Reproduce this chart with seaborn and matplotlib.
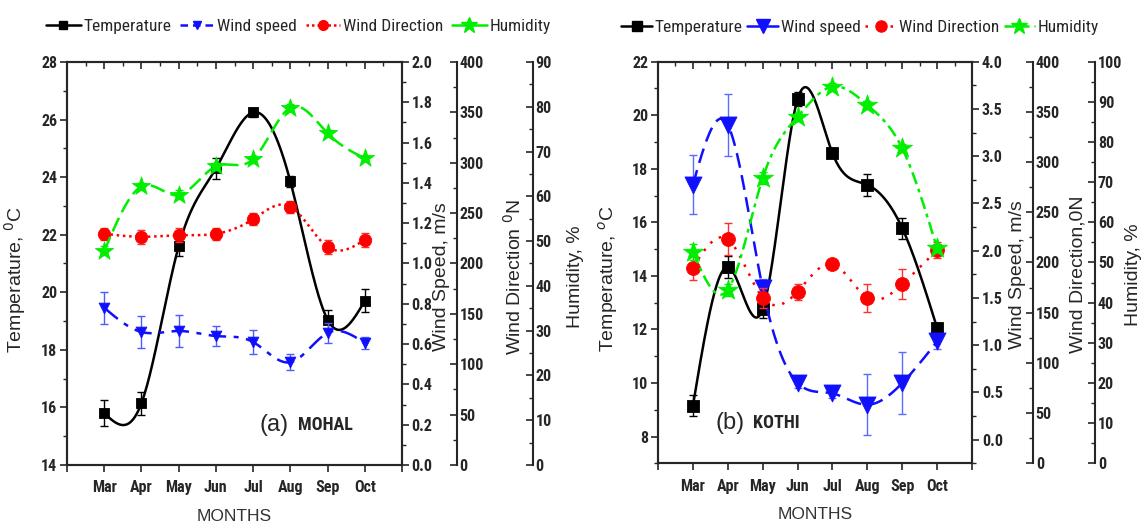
import numpy as np
import matplotlib
matplotlib.use("Agg")
import matplotlib.pyplot as plt
import seaborn as sns
from matplotlib import font_manager
from matplotlib.lines import Line2D
from matplotlib.ticker import MultipleLocator, FormatStrFormatter, FixedLocator

# Data
months = ["Mar", "Apr", "May", "Jun", "Jul", "Aug", "Sep", "Oct"]
pos = np.arange(1, 9)

# (a) MOHAL
temp_a = [15.8, 16.15, 21.6, 24.3, 26.25, 23.85, 19.05, 19.7]
temp_a_err = [0.45, 0.4, 0.35, 0.35, 0.15, 0.2, 0.35, 0.4]
ws_a = [0.78, 0.66, 0.665, 0.64, 0.61, 0.51, 0.655, 0.605]
ws_a_err = [0.08, 0.08, 0.08, 0.05, 0.06, 0.04, 0.05, 0.03]
wd_a = [229.5, 226.5, 228, 229.5, 244, 256.5, 216.5, 223.5]
wd_a_err = [6, 7, 7, 6, 6, 6, 7, 7]
hum_a = [47.8, 62.2, 60.3, 66.7, 68.3, 79.8, 74.1, 68.5]
hum_a_err = [1, 0.8, 1, 0.8, 0.8, 0.8, 0.8, 0.6]

# (b) KOTHI
temp_b = [9.15, 14.33, 12.76, 20.6, 18.58, 17.4, 15.78, 12.05]
temp_b_err = [0.4, 0.4, 0.35, 0.25, 0.1, 0.4, 0.4, 0.2]
ws_b = [2.70, 3.33, 1.6, 0.60, 0.49, 0.37, 0.60, 1.04]
ws_b_err = [0.31, 0.33, 0.1, 0.05, 0.05, 0.32, 0.33, 0.08]
wd_b = [195, 223, 165, 171, 198.5, 165, 178.5, 212.5]
wd_b_err = [12, 16, 10, 8, 4, 14, 15, 8]
hum_b = [52.7, 43.2, 71, 86.3, 93.8, 89.2, 78.4, 53.5]
hum_b_err = [2, 1.5, 1.5, 1, 1, 1, 1, 1]

sns.set_style("ticks")
plt.rcParams["font.family"] = ["Liberation Sans", "DejaVu Sans"]

# pick a condensed face if one is installed
have = {f.name for f in font_manager.fontManager.ttflist}
narrow = [n for n in ["Liberation Sans Narrow", "DejaVu Sans Condensed",
                      "Roboto Condensed", "Open Sans Condensed"] if n in have]
if narrow:
    NARROW = [narrow[0], "DejaVu Sans"]
    TICK_FS, LEG_FS, TAG_FS = 11.5, 12.5, 13
else:
    NARROW = ["Liberation Sans", "DejaVu Sans"]
    TICK_FS, LEG_FS, TAG_FS = 10, 11, 11

BLACK, BLUE, RED, GREEN = "#000000", "#1010ff", "#ff0000", "#00ee00"


def smooth(x, y, n=300):
    # natural cubic spline, only used to draw the connecting curve
    x = np.asarray(x, float)
    y = np.asarray(y, float)
    k = len(x)
    h = np.diff(x)
    A = np.zeros((k, k))
    r = np.zeros(k)
    A[0, 0] = A[-1, -1] = 1
    for i in range(1, k - 1):
        A[i, i - 1] = h[i - 1]
        A[i, i] = 2 * (h[i - 1] + h[i])
        A[i, i + 1] = h[i]
        r[i] = 3 * ((y[i + 1] - y[i]) / h[i] - (y[i] - y[i - 1]) / h[i - 1])
    c = np.linalg.solve(A, r)
    b = (y[1:] - y[:-1]) / h - h * (2 * c[:-1] + c[1:]) / 3
    d = (c[1:] - c[:-1]) / (3 * h)
    xs = np.linspace(x[0], x[-1], n)
    idx = np.clip(np.searchsorted(x, xs) - 1, 0, k - 2)
    dx = xs - x[idx]
    return xs, y[idx] + b[idx] * dx + c[idx] * dx ** 2 + d[idx] * dx ** 3


def series(ax, y, err, color, marker, ms, ls, ecolor):
    xs, ys = smooth(pos, y)
    sns.lineplot(x=xs, y=ys, ax=ax, color=color, lw=1.8, legend=False)
    ax.lines[-1].set_linestyle(ls)
    ax.errorbar(pos, y, yerr=err, fmt="none", ecolor=ecolor, elinewidth=1,
                capsize=3, capthick=1, zorder=2)
    sns.scatterplot(x=pos, y=y, ax=ax, color=color, marker=marker, s=ms,
                    edgecolor=color, linewidth=0.6, zorder=3, legend=False)


def style_ticks(ax):
    for t in ax.get_yticklabels() + ax.get_xticklabels():
        t.set_family(NARROW)
        t.set_weight("bold")
        t.set_fontsize(TICK_FS)


def panel(fig, rect, tlim, wslim, wsmaj, humlim, pos_wd, pos_hum,
          labels, lab_x, lab_y):
    ax = fig.add_axes(rect)
    ax2 = ax.twinx()
    ax3 = ax.twinx()
    ax4 = ax.twinx()
    ax.set_xlim(0, 9)
    ax.set_ylim(*tlim)
    ax2.set_ylim(*wslim)
    ax3.set_ylim(0, 400)
    ax4.set_ylim(*humlim)

    ax.set_xticks(range(10))
    ax.set_xticklabels([""] + months + [""])
    ax.yaxis.set_major_locator(MultipleLocator(2))
    ax.yaxis.set_minor_locator(MultipleLocator(1))
    ax.yaxis.set_major_formatter(FormatStrFormatter("%d"))
    ax.tick_params(axis="x", which="major", direction="out", top=False,
                   length=5, width=1.2, pad=6)
    ax.tick_params(axis="y", which="major", direction="out", length=5, width=1.2,
                   pad=2)
    ax.tick_params(axis="y", which="minor", direction="out", length=3, width=1)
    top = ax.twiny()
    top.set_xlim(0, 9)
    top.xaxis.set_major_locator(FixedLocator(range(10)))
    top.xaxis.set_minor_locator(MultipleLocator(0.5))
    top.tick_params(axis="x", which="major", direction="in", length=5, width=1.2,
                    labeltop=False)
    top.tick_params(axis="x", which="minor", direction="in", length=3, width=1)
    for s in top.spines.values():
        s.set_visible(False)

    ax2.yaxis.set_major_locator(MultipleLocator(wsmaj))
    ax2.yaxis.set_minor_locator(MultipleLocator(wsmaj / 2))
    ax2.yaxis.set_major_formatter(FormatStrFormatter("%.1f"))
    ax2.tick_params(which="major", direction="out", length=5, width=1.2, pad=2)
    ax2.tick_params(which="minor", direction="out", length=3, width=1)

    ax3.spines["right"].set_position(("axes", pos_wd))
    ax4.spines["right"].set_position(("axes", pos_hum))
    ax3.yaxis.set_major_locator(MultipleLocator(50))
    ax3.yaxis.set_minor_locator(MultipleLocator(25))
    ax4.yaxis.set_major_locator(MultipleLocator(10))
    ax4.yaxis.set_minor_locator(MultipleLocator(5))
    for a in (ax3, ax4):
        a.tick_params(which="major", direction="in", length=5, width=1.2, pad=2)
        a.tick_params(which="minor", direction="in", length=3, width=1)
        for k in ("left", "top", "bottom"):
            a.spines[k].set_visible(False)

    for a in (ax, ax2, ax3, ax4):
        for s in a.spines.values():
            s.set_linewidth(1.5)
        a.patch.set_visible(False)
        style_ticks(a)

    for a, lab, lx, ly in zip((ax, ax2, ax3, ax4), labels, lab_x, lab_y):
        a.set_ylabel(lab, fontsize=14)
        a.yaxis.set_label_coords(lx, ly)
    ax.set_xlabel("MONTHS", fontsize=12.5, color="#333333", labelpad=10)
    return ax, ax2, ax3, ax4


fig = plt.figure(figsize=(11.44, 5.23), dpi=100)

# (a) MOHAL
axa, axa2, axa3, axa4 = panel(
    fig, [0.0586, 0.1109, 0.2928, 0.7706], (14, 28), (0, 2.0), 0.2, (0, 90),
    1.164, 1.391,
    ["Temperature, $^0$C", "Wind Speed, m/s", "Wind Direction $^0$N", "Humidity, %"],
    [-0.117, 1.093, 1.301, 1.493], [0.46, 0.467, 0.467, 0.467])
series(axa, temp_a, temp_a_err, BLACK, "s", 50, "-", BLACK)
series(axa2, ws_a, ws_a_err, BLUE, "v", 60, (0, (7, 3, 2, 3)), "#4a5cff")
series(axa3, wd_a, wd_a_err, RED, "o", 80, (0, (1, 1.5)), "#ff3030")
series(axa4, hum_a, hum_a_err, GREEN, "*", 190, (0, (6, 2.5)), GREEN)
axa.text(0.575, 0.10, "(a)", transform=axa.transAxes, fontsize=17, va="center")
axa.text(0.69, 0.10, "MOHAL", transform=axa.transAxes, fontsize=TAG_FS,
         fontweight="bold", va="center", family=NARROW)

# (b) KOTHI
axb, axb2, axb3, axb4 = panel(
    fig, [0.5752, 0.1141, 0.2745, 0.768], (7, 22), (-0.25, 4.0), 0.5, (0, 100),
    1.194, 1.392,
    ["Temperature, $^o$C", "Wind Speed, m/s", "Wind Direction,0N", "Humidity, %"],
    [-0.121, 1.118, 1.31, 1.488], [0.461, 0.469, 0.47, 0.47])
series(axb, temp_b, temp_b_err, BLACK, "s", 70, "-", BLACK)
series(axb2, ws_b, ws_b_err, BLUE, "v", 150, (0, (6, 3)), "#5a6cff")
series(axb3, wd_b, wd_b_err, RED, "o", 100, (0, (1, 3)), "#ff3030")
series(axb4, hum_b, hum_b_err, GREEN, "*", 230, (0, (5, 2, 1.5, 2)), GREEN)
axb.text(0.182, 0.10, "(b)", transform=axb.transAxes, fontsize=17, va="center")
axb.text(0.303, 0.10, "KOTHI", transform=axb.transAxes, fontsize=TAG_FS,
         fontweight="bold", va="center", family=NARROW)


def legend(ax, styles, anchor, hl, cs):
    names = ["Temperature", "Wind speed", "Wind Direction", "Humidity"]
    handles = [Line2D([], [], color=c, marker=m, markersize=s, linestyle=ls, lw=1.8)
               for c, m, s, ls in styles]
    ax.legend(handles, names, loc="center", bbox_to_anchor=anchor, ncol=4,
              frameon=False, handlelength=hl, handletextpad=0.15,
              columnspacing=cs, prop={"family": NARROW, "size": LEG_FS})


legend(axa4, [(BLACK, "s", 6, "-"), (BLUE, "v", 6, (0, (3, 2))),
              (RED, "o", 7, (0, (1, 1.2))), (GREEN, "*", 12, "-")],
       (0.69, 1.087), 2.0, 0.5)
legend(axb4, [(BLACK, "s", 7, "-"), (BLUE, "v", 10, "-"),
              (RED, "o", 8, (0, (1, 4))), (GREEN, "*", 12, (0, (4, 2)))],
       (0.643, 1.086), 1.8, 0.25)

fig.savefig("out.png", dpi=100)
